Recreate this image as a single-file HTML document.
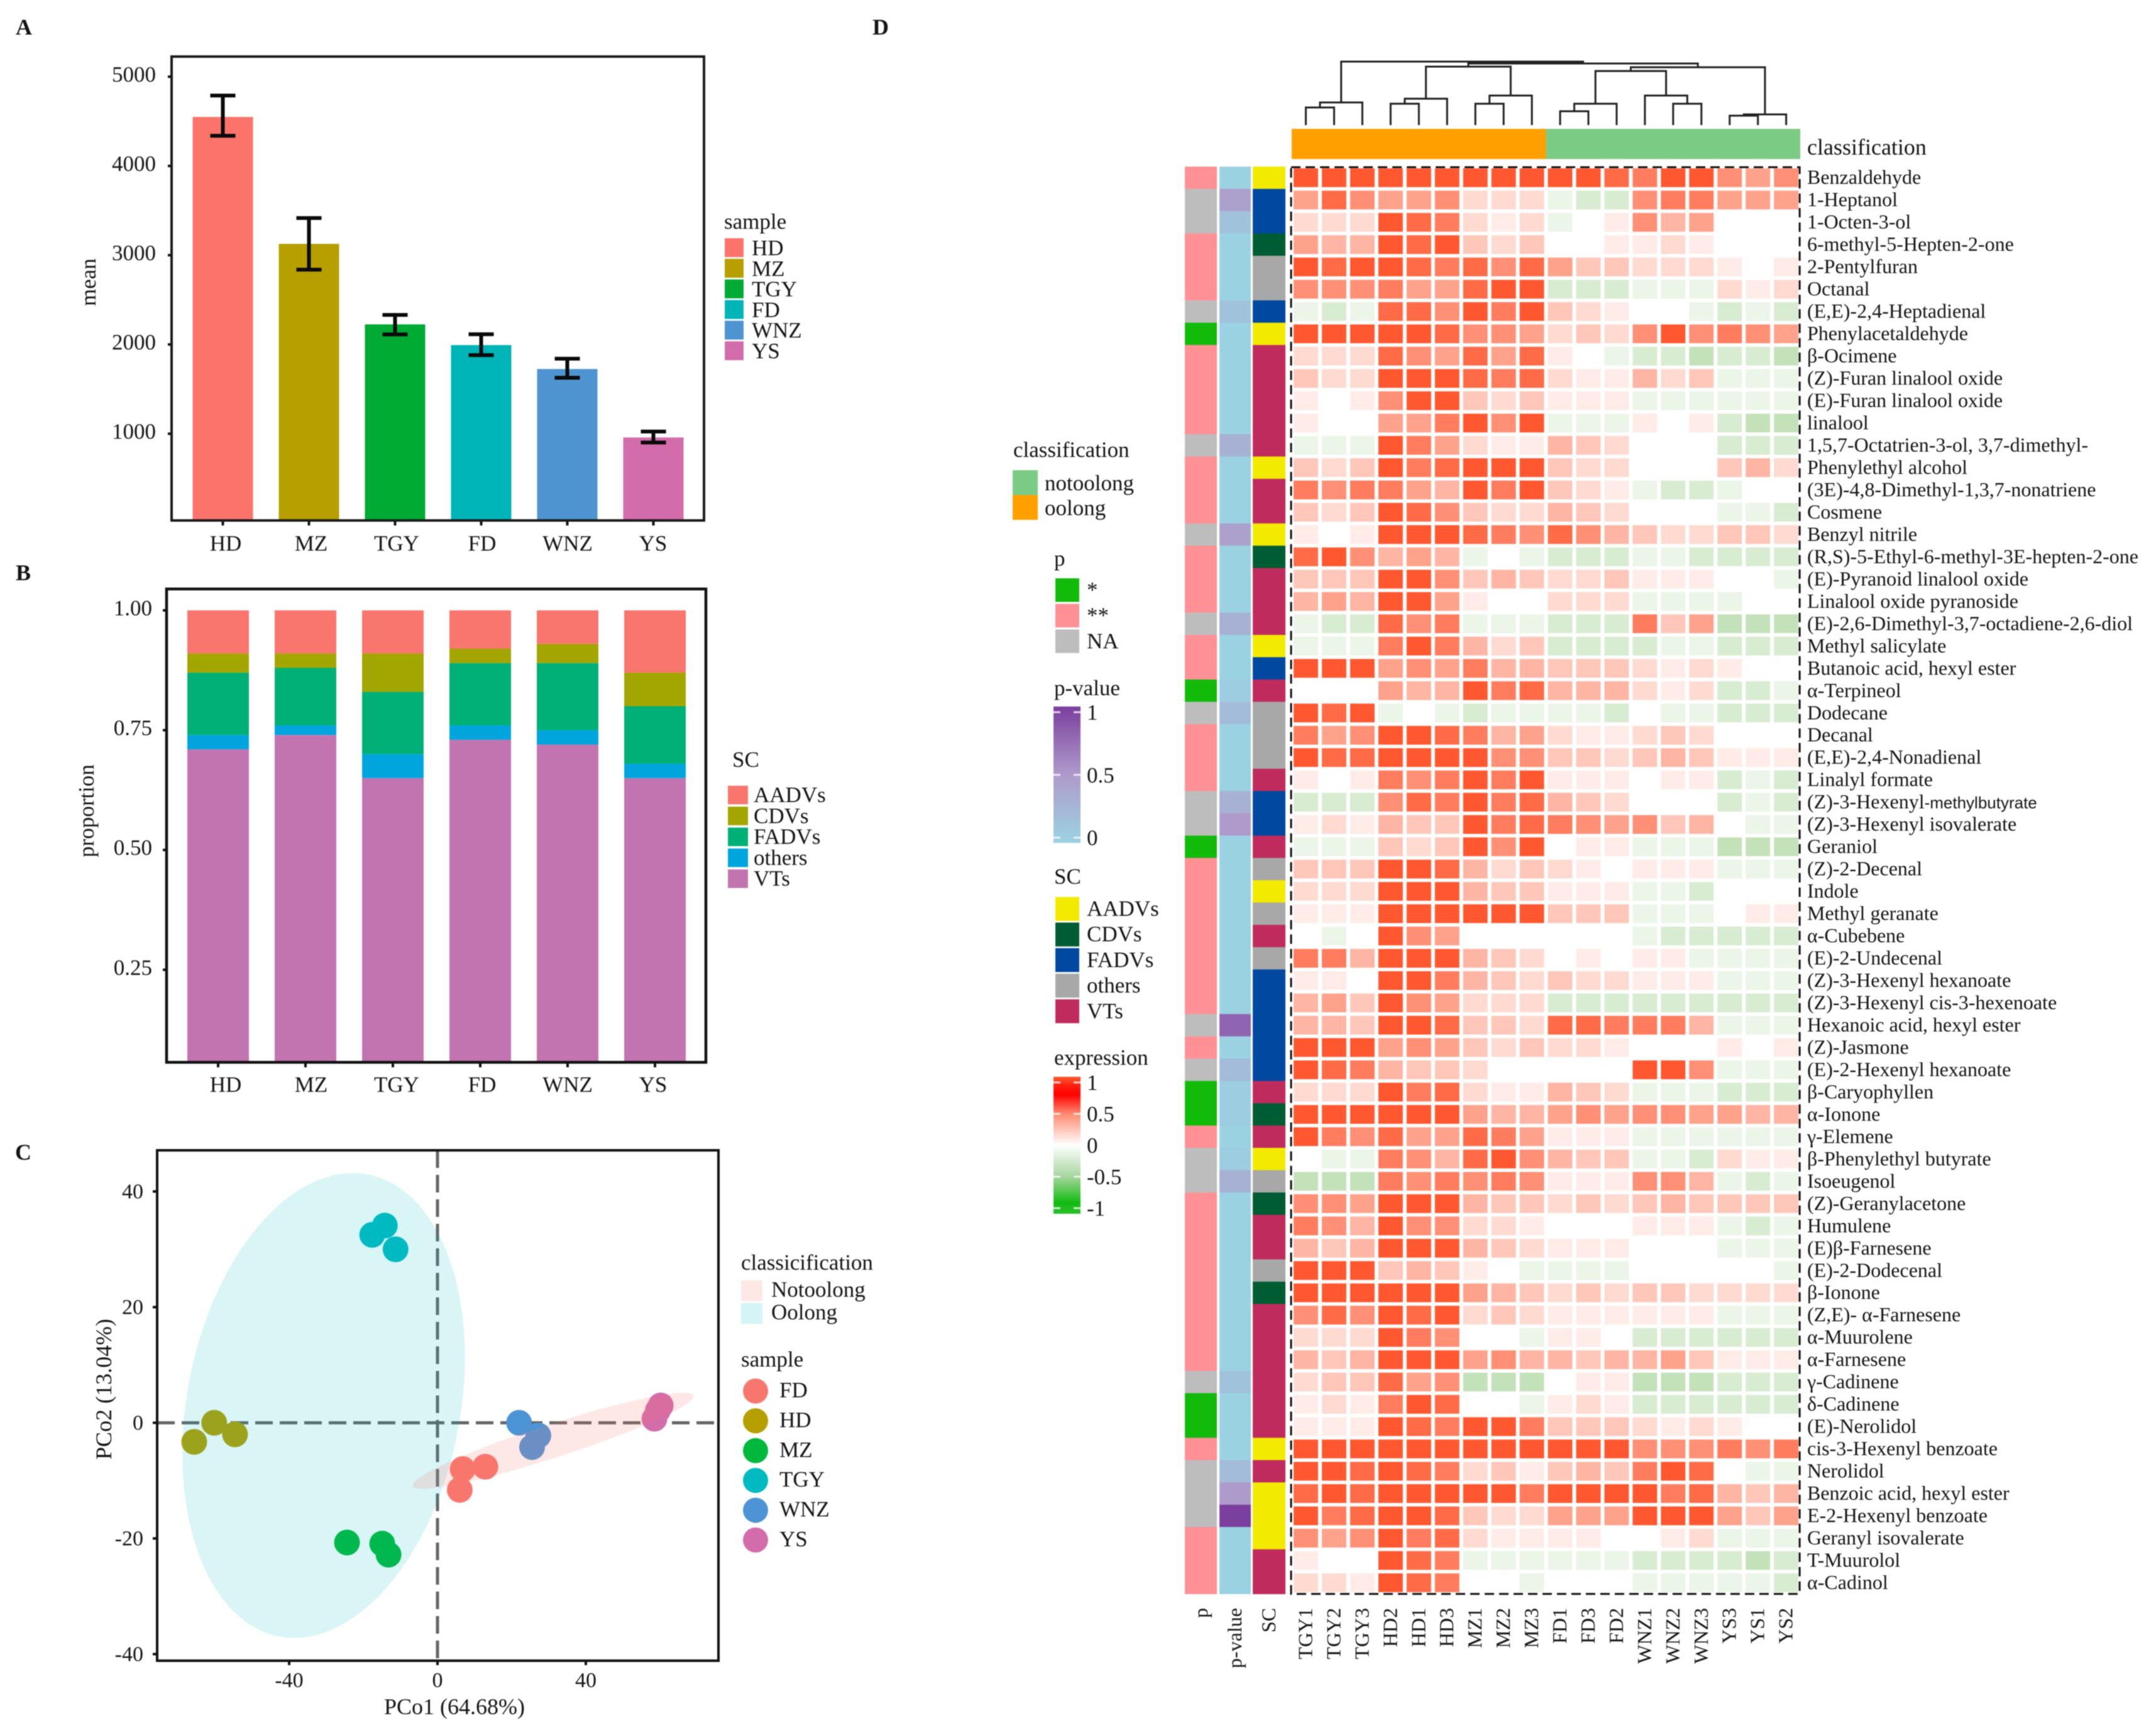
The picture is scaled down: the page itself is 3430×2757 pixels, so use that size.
<!DOCTYPE html>
<html lang="en">
<head>
<meta charset="utf-8">
<title>Volatile compound analysis: bar charts, PCoA and heatmap</title>
<style>
html,body{margin:0;padding:0;background:#fff;}
svg{display:block;filter:blur(0.7px);}
text{font-family:"Liberation Serif","Noto Serif CJK SC",serif;fill:#141414;}
</style>
</head>
<body>
<svg id="figure" xmlns="http://www.w3.org/2000/svg" width="3430" height="2757" viewBox="0 0 3430 2757">
  <defs>
    <linearGradient id="pvalue-gradient" x1="0" y1="0" x2="0" y2="1">
      <stop offset="0" stop-color="#7b3f9e"/>
      <stop offset="0.5" stop-color="#ae9bcb"/>
      <stop offset="1" stop-color="#9bd2e2"/>
    </linearGradient>
    <linearGradient id="expression-gradient" x1="0" y1="0" x2="0" y2="1">
      <stop offset="0" stop-color="#ff5a30"/>
      <stop offset="0.07" stop-color="#ff1c0c"/>
      <stop offset="0.13" stop-color="#ff0000"/>
      <stop offset="0.27" stop-color="#ff8a70"/>
      <stop offset="0.5" stop-color="#ffffff"/>
      <stop offset="0.73" stop-color="#a5d59c"/>
      <stop offset="0.92" stop-color="#11bb11"/>
      <stop offset="1" stop-color="#2cbf2c"/>
    </linearGradient>
  </defs>
  <rect width="3430" height="2757" fill="#ffffff"/>

  <text x="25" y="55" font-size="36" font-weight="bold">A</text>
  <text x="25" y="923" font-size="36" font-weight="bold">B</text>
  <text x="24" y="1845" font-size="36" font-weight="bold">C</text>
  <text x="1388" y="55" font-size="36" font-weight="bold">D</text>

  <g id="panel-a"></g>
  <g id="panel-b"></g>
  <g id="panel-c"></g>
  <g id="panel-d"></g>

  <text transform="translate(152 449) rotate(-90)" font-size="35" text-anchor="middle">mean</text>
  <text x="1152" y="364" font-size="35">sample</text>
  <text transform="translate(149 1290) rotate(-90)" font-size="35" text-anchor="middle">proportion</text>
  <text x="1165" y="1220" font-size="35">SC</text>
  <text x="723" y="2727" font-size="36" text-anchor="middle">PCo1 (64.68%)</text>
  <text transform="translate(177 2210) rotate(-90)" font-size="36" text-anchor="middle">PCo2 (13.04%)</text>
  <text x="1179" y="2020" font-size="35">classicification</text>
  <text x="1179" y="2174" font-size="35">sample</text>

  <text x="2875" y="246" font-size="36">classification</text>
  <text x="1612" y="727" font-size="35">classification</text>
  <text x="1677" y="900" font-size="35">p</text>
  <text x="1677" y="1106" font-size="35">p-value</text>
  <text x="1677" y="1406" font-size="35">SC</text>
  <text x="1677" y="1694" font-size="35">expression</text>
</svg>

<script>
/* ---------- Panel A: mean bars ---------- */
const sampleNames = ['HD', 'MZ', 'TGY', 'FD', 'WNZ', 'YS'];
const meanValues = [4549, 3127, 2225, 1993, 1725, 958];
const errorLower = [4338, 2838, 2113, 1880, 1627, 901];
const errorUpper = [4789, 3416, 2331, 2114, 1841, 1025];
const meanTicks = [1000, 2000, 3000, 4000, 5000];
const sampleColorsA = ['#fc736b', '#b79f00', '#00ab33', '#00b5b8', '#4d94d0', '#d36cab'];

/* ---------- Panel B: proportion stacks ---------- */
const aadvShare = [0.09, 0.09, 0.09, 0.08, 0.07, 0.13];
const cdvShare = [0.04, 0.03, 0.08, 0.03, 0.04, 0.07];
const fadvShare = [0.13, 0.12, 0.13, 0.13, 0.14, 0.12];
const otherShare = [0.03, 0.02, 0.05, 0.03, 0.03, 0.03];
const vtShare = [0.71, 0.74, 0.65, 0.73, 0.72, 0.65];
const proportionTicks = ['0.25', '0.50', '0.75', '1.00'];
const scNamesB = ['AADVs', 'CDVs', 'FADVs', 'others', 'VTs'];
const scColorsB = ['#f8766d', '#a3a500', '#00b076', '#00a5dd', '#c274b0'];

/* ---------- Panel C: PCoA ---------- */
const pcoSample = ['FD','FD','FD','HD','HD','HD','MZ','MZ','MZ','TGY','TGY','TGY','WNZ','WNZ','WNZ','YS','YS','YS'];
const pco1 = [6.8,12.9,6.0,-60.2,-54.6,-65.6,-24.4,-14.9,-13.2,-14.2,-17.6,-11.3,22.0,27.2,25.5,60.2,59.4,58.5];
const pco2 = [-8.0,-7.6,-11.6,0.0,-2.0,-3.3,-20.7,-20.9,-22.8,34.1,32.5,30.0,0.0,-2.2,-4.2,3.0,2.1,0.7];
const pcoLegendNames = ['FD', 'HD', 'MZ', 'TGY', 'WNZ', 'YS'];
const pcoColors = ['#f8766d', '#b79f00', '#00b83a', '#00bac2', '#4d94d6', '#d36cab'];
const pco1Ticks = [-40, 0, 40];
const pco2Ticks = [-40, -20, 0, 20, 40];
const ellipseNames = ['Oolong', 'Notoolong'];
const ellipseColors = ['#00bfc4', '#f8766d'];
const ellipseCentreX = [-30.7, 31.2];
const ellipseCentreY = [3.0, -3.1];
const ellipseSpreadX = [38.1, 37.9];
const ellipseSpreadY = [40.2, 8.3];
const ellipseCorrelation = [0.207, 0.93];

/* ---------- Panel D: heatmap ---------- */
const columnSamples = ['TGY1','TGY2','TGY3','HD2','HD1','HD3','MZ1','MZ2','MZ3','FD1','FD3','FD2','WNZ1','WNZ2','WNZ3','YS3','YS1','YS2'];
const compounds = ['Benzaldehyde','1-Heptanol','1-Octen-3-ol','6-methyl-5-Hepten-2-one','2-Pentylfuran','Octanal','(E,E)-2,4-Heptadienal','Phenylacetaldehyde','β-Ocimene','(Z)-Furan linalool oxide','(E)-Furan linalool oxide','linalool','1,5,7-Octatrien-3-ol, 3,7-dimethyl-','Phenylethyl alcohol','(3E)-4,8-Dimethyl-1,3,7-nonatriene','Cosmene','Benzyl nitrile','(R,S)-5-Ethyl-6-methyl-3E-hepten-2-one','(E)-Pyranoid linalool oxide','Linalool oxide pyranoside','(E)-2,6-Dimethyl-3,7-octadiene-2,6-diol','Methyl salicylate','Butanoic acid, hexyl ester','α-Terpineol','Dodecane','Decanal','(E,E)-2,4-Nonadienal','Linalyl formate','(Z)-3-Hexenyl-methylbutyrate','(Z)-3-Hexenyl isovalerate','Geraniol','(Z)-2-Decenal','Indole','Methyl geranate','α-Cubebene','(E)-2-Undecenal','(Z)-3-Hexenyl hexanoate','(Z)-3-Hexenyl cis-3-hexenoate','Hexanoic acid, hexyl ester','(Z)-Jasmone','(E)-2-Hexenyl hexanoate','β-Caryophyllen','α-Ionone','γ-Elemene','β-Phenylethyl butyrate','Isoeugenol','(Z)-Geranylacetone','Humulene','(E)β-Farnesene','(E)-2-Dodecenal','β-Ionone','(Z,E)- α-Farnesene','α-Muurolene','α-Farnesene','γ-Cadinene','δ-Cadinene','(E)-Nerolidol','cis-3-Hexenyl benzoate','Nerolidol','Benzoic acid, hexyl ester','E-2-Hexenyl benzoate','Geranyl isovalerate','T-Muurolol','α-Cadinol'];
/* expression in tenths, one row per compound */
const expressionTenths = [
[9,9,9,9,9,9,9,9,9,9,9,8,7,9,9,6,5,6],
[5,8,6,5,5,6,2,2,2,-1,-2,-2,6,7,7,5,5,5],
[2,2,2,9,8,7,2,1,2,-1,0,1,6,4,5,0,0,0],
[5,4,4,9,8,9,3,2,3,0,0,1,1,2,1,0,0,0],
[9,8,9,9,8,7,8,6,8,5,3,3,2,2,2,1,0,1],
[6,6,6,7,5,5,8,9,9,-2,-2,-2,-1,-1,-1,2,1,2],
[-1,-2,-1,8,8,6,9,7,9,3,2,1,0,0,-1,-2,-1,-2],
[9,9,9,9,9,8,6,6,5,2,3,2,6,9,6,7,6,5],
[2,2,2,8,6,5,8,5,8,1,0,-1,-2,-2,-3,-2,-2,-3],
[3,2,2,9,9,9,8,7,8,2,1,1,4,2,3,-1,-1,-1],
[1,0,1,6,9,9,3,2,3,1,1,1,-1,-1,-1,-1,-1,-1],
[1,0,0,5,5,7,9,6,9,-1,-1,-1,1,0,1,-2,-3,-3],
[-1,-1,-1,9,7,5,2,1,1,4,3,2,0,0,0,-2,-2,-2],
[3,2,3,9,7,8,9,9,9,3,2,2,0,0,0,3,4,2],
[7,6,7,7,5,4,9,7,9,3,2,1,-1,-2,-2,-1,0,0],
[3,2,3,9,8,6,3,2,2,4,3,2,0,0,0,-1,-1,-2],
[1,0,1,9,9,9,8,7,6,8,6,4,3,2,2,3,3,2],
[8,9,6,4,5,4,-1,0,-1,-2,-2,-2,-1,-1,-2,-2,-2,-2],
[3,3,3,9,9,6,3,4,3,2,2,3,1,1,1,0,0,-1],
[4,5,4,9,9,5,1,0,0,2,2,2,-1,-1,-1,-1,0,0],
[-1,-2,-2,8,6,7,-1,-1,-1,-2,-2,-2,7,3,5,-3,-3,-3],
[-1,-1,-1,7,9,7,4,2,3,-2,-2,-2,-2,-1,-1,-2,-2,-2],
[9,9,9,5,6,5,7,4,4,3,3,3,2,1,2,1,0,0],
[0,0,0,5,4,4,9,7,8,4,4,4,2,1,2,-2,-2,-1],
[9,8,9,-1,0,-1,-2,-1,-1,-1,-1,-2,0,-1,-1,-2,-2,-2],
[7,5,6,9,9,8,7,4,5,2,1,1,2,3,2,0,0,0],
[9,8,8,9,9,9,9,6,6,3,3,2,3,4,3,1,1,1],
[1,0,1,7,6,7,9,7,9,1,1,1,0,1,1,-2,-1,-2],
[-2,-2,-2,6,8,7,9,7,8,4,3,2,0,0,0,-2,-1,-2],
[1,2,1,4,3,3,9,7,8,7,6,5,6,3,4,0,-1,-1],
[-1,-1,-1,3,2,3,9,6,9,0,1,1,-1,-1,-1,-3,-3,-3],
[3,3,3,9,9,8,4,2,3,2,1,0,1,1,1,-1,-1,-1],
[2,2,2,9,9,9,4,3,3,1,1,1,-1,-1,-2,0,0,0],
[1,1,1,9,9,9,9,9,9,3,3,3,-1,-1,-1,0,1,1],
[0,-1,0,9,6,5,0,0,0,0,0,0,-1,-2,-2,-2,-2,-2],
[7,7,4,9,9,9,4,3,2,0,1,0,1,1,-1,-1,-1,-1],
[1,1,0,9,9,7,4,3,2,3,2,2,1,1,1,-1,-1,-1],
[4,5,3,9,6,5,2,2,2,-2,-2,-2,-2,-2,-2,-2,-2,-2],
[4,4,3,9,9,8,3,3,2,8,8,7,7,7,4,-1,-1,-1],
[9,9,9,5,6,5,3,2,3,2,2,1,0,0,0,1,0,1],
[9,8,7,4,3,3,2,0,0,0,0,0,9,9,6,-1,-1,-1],
[2,2,2,9,7,8,2,1,1,4,3,2,-1,-1,-1,-2,-2,-2],
[9,9,9,9,9,9,5,4,4,5,6,5,6,6,5,5,4,4],
[9,7,6,8,5,5,8,7,5,1,1,1,-1,-1,-1,-1,-1,-1],
[0,-1,-1,7,6,4,8,9,6,4,3,3,-1,-1,-2,2,1,1],
[-3,-3,-3,7,6,7,6,7,6,1,1,1,6,6,4,-1,-2,-1],
[6,6,5,9,9,9,4,3,3,2,3,2,3,4,3,3,3,3],
[7,6,4,9,6,6,2,2,1,0,0,0,1,1,1,-1,-2,-1],
[4,3,4,9,9,9,4,3,2,1,1,1,0,0,0,-1,-1,-1],
[9,9,9,3,4,3,1,0,-1,-1,-1,-1,0,0,0,0,0,-1],
[9,9,9,9,9,9,5,4,3,2,3,2,3,3,2,2,2,2],
[6,8,6,9,8,9,2,3,2,1,1,1,1,1,1,-1,-1,-1],
[2,2,2,9,7,6,0,0,-1,1,1,0,-2,-2,-2,-2,-2,-2],
[4,3,4,9,9,9,5,6,4,4,3,4,4,5,3,1,1,1],
[2,3,3,8,5,6,-3,-3,-3,0,1,1,-3,-3,-3,-2,-2,-2],
[1,2,1,7,9,8,0,0,-1,1,2,1,-2,-2,-2,-2,-2,-2],
[1,1,1,9,8,7,9,9,7,3,3,3,2,1,2,1,0,0],
[9,9,9,9,9,9,9,9,9,9,9,9,6,6,6,7,6,7],
[9,9,8,9,8,7,2,3,1,3,4,3,7,9,8,0,-1,-1],
[8,9,8,9,9,9,9,9,7,9,9,9,9,7,8,4,3,4],
[9,7,8,9,9,8,3,2,2,5,5,5,9,9,9,5,3,5],
[6,5,6,9,7,8,2,1,1,1,1,0,0,1,2,-1,-1,-1],
[1,0,0,9,8,7,-1,-1,-1,-1,-1,-1,-2,-2,-2,-2,-3,-2],
[2,2,1,9,8,7,0,0,-1,0,0,0,-1,-1,-1,-1,-1,-2]
];
const pSignificance = ['**','NA','NA','**','**','**','NA','*','**','**','**','**','NA','**','**','**','NA','**','**','**','NA','**','**','*','NA','**','**','**','NA','NA','*','**','**','**','**','**','**','**','NA','**','NA','*','*','**','NA','NA','**','**','**','**','**','**','**','**','NA','*','*','**','NA','NA','NA','**','**','**'];
const pValues = [0,.45,.15,0,0,0,.15,0,0,0,0,0,.3,0,0,0,.45,0,0,0,.3,0,0,.05,.2,0,0,0,.3,.5,0,0,0,0,0,0,0,0,.8,0,.2,.05,.05,0,.05,.3,0,0,0,0,0,0,0,0,.15,0,0,0,.2,.5,1,0,0,0];
const scClasses = ['AADVs','FADVs','FADVs','CDVs','others','others','FADVs','AADVs','VTs','VTs','VTs','VTs','VTs','AADVs','VTs','VTs','AADVs','CDVs','VTs','VTs','VTs','AADVs','FADVs','VTs','others','others','others','VTs','FADVs','FADVs','VTs','others','AADVs','others','VTs','others','FADVs','FADVs','FADVs','FADVs','FADVs','VTs','CDVs','VTs','AADVs','others','CDVs','VTs','VTs','others','CDVs','VTs','VTs','VTs','VTs','VTs','VTs','AADVs','VTs','AADVs','AADVs','AADVs','VTs','VTs'];
const pLegendNames = ['*', '**', 'NA'];
const pLegendColors = ['#12bb0a', '#ff9095', '#bdbdbd'];
const scLegendNames = ['AADVs', 'CDVs', 'FADVs', 'others', 'VTs'];
const scLegendColors = ['#f2ea00', '#005c32', '#0048a0', '#a8a8a8', '#c02b5e'];
const classNames = ['notoolong', 'oolong'];
const classColors = ['#7bcb84', '#ffa000'];
const oolongColumns = 9;
const pValueTicks = ['1', '0.5', '0'];
const expressionTicks = ['1', '0.5', '0', '-0.5', '-1'];
/* dendrogram merges: left node, right node, merge height; nodes 0-17 are leaves, 18+ earlier merges */
const mergeLeft = [0,18,3,20,6,22,21,9,25,13,12,26,15,30,29,24,19];
const mergeRight = [1,2,4,5,7,8,23,10,11,14,27,28,16,17,31,32,33];
const mergeHeight = [28,36,34,42,34,47,93,22,34,34,47,86,15,17,92,98,101];

/* ---------- helpers ---------- */
const SVGNS = 'http://www.w3.org/2000/svg';
function mk(parent, tag, attrs, txt) {
  const node = document.createElementNS(SVGNS, tag);
  for (const k in attrs) node.setAttribute(k, attrs[k]);
  if (txt !== undefined) node.textContent = txt;
  parent.appendChild(node);
  return node;
}
function slug(s) {
  return String(s).toLowerCase().replace(/[^a-z0-9]+/g, '-').replace(/^-|-$/g, '') || 'item';
}

/* ---------- Panel A ---------- */
(function () {
  const g = document.getElementById('panel-a');
  const x = i => 354.5 + 137 * i;
  const labelX = i => 359 + 136 * i;
  const y = v => 832 - 0.142 * v;
  const base = 828;
  sampleNames.forEach((s, i) => {
    let el = mk(g, 'rect', { x: x(i) - 48, y: y(meanValues[i]), width: 96, height: base - y(meanValues[i]), fill: sampleColorsA[i] });
    
    
    el = mk(g, 'path', { d: 'M' + (x(i) - 20) + ' ' + y(errorUpper[i]) + 'H' + (x(i) + 20) + 'M' + x(i) + ' ' + y(errorUpper[i]) + 'V' + y(errorLower[i]) + 'M' + (x(i) - 20) + ' ' + y(errorLower[i]) + 'H' + (x(i) + 20), stroke: '#0a0a0a', 'stroke-width': 6, fill: 'none' });
    
    
    el = mk(g, 'line', { x1: x(i), x2: x(i), y1: base, y2: base + 8, stroke: '#111', 'stroke-width': 4 });
    
    
    el = mk(g, 'text', { x: labelX(i), y: 876, 'font-size': 35, 'text-anchor': 'middle' }, s);
    
    
  });
  meanTicks.forEach(t => {
    let el = mk(g, 'line', { x1: 267, x2: 273, y1: y(t), y2: y(t), stroke: '#111', 'stroke-width': 4 });
    
    
    el = mk(g, 'text', { x: 248, y: y(t) + 8, 'font-size': 35, 'text-anchor': 'end' }, String(t));
    
    
  });
  let frame = mk(g, 'rect', { x: 273, y: 90, width: 847, height: 738, fill: 'none', stroke: '#1a1a1a', 'stroke-width': 4 });
  
  
  sampleNames.forEach((s, i) => {
    let el = mk(g, 'rect', { x: 1153, y: 379 + 32.8 * i, width: 30, height: 30, fill: sampleColorsA[i] });
    
    
    el = mk(g, 'text', { x: 1196, y: 406 + 32.8 * i, 'font-size': 35 }, s);
    
    
  });
})();

/* ---------- Panel B ---------- */
(function () {
  const g = document.getElementById('panel-b');
  const x = i => 347 + 139 * i;
  const labelX = i => 359 + 136 * i;
  const y = v => 971 + (1 - v) * 762.4;
  const base = 1690;
  const stackBottomUp = [vtShare, otherShare, fadvShare, cdvShare, aadvShare];
  const stackNames = ['VTs', 'others', 'FADVs', 'CDVs', 'AADVs'];
  const stackColors = ['#c274b0', '#00a5dd', '#00b076', '#a3a500', '#f8766d'];
  sampleNames.forEach((s, i) => {
    let cum = 0;
    stackBottomUp.forEach((series, k) => {
      const top = y(cum + series[i]);
      const bottom = Math.min(y(cum), base);
      const el = mk(g, 'rect', { x: x(i) - 49, y: top, width: 98, height: bottom - top, fill: stackColors[k] });
      
      
      cum += series[i];
    });
    let el = mk(g, 'line', { x1: x(i), x2: x(i), y1: base, y2: base + 8, stroke: '#111', 'stroke-width': 4 });
    
    
    el = mk(g, 'text', { x: labelX(i), y: 1737, 'font-size': 35, 'text-anchor': 'middle' }, s);
    
    
  });
  proportionTicks.forEach(t => {
    const v = parseFloat(t);
    let el = mk(g, 'line', { x1: 259, x2: 265, y1: y(v), y2: y(v), stroke: '#111', 'stroke-width': 4 });
    
    
    el = mk(g, 'text', { x: 242, y: y(v) + 8, 'font-size': 35, 'text-anchor': 'end' }, t);
    
    
  });
  let frame = mk(g, 'rect', { x: 265, y: 937, width: 858, height: 753, fill: 'none', stroke: '#111', 'stroke-width': 4.5 });
  
  
  scNamesB.forEach((s, i) => {
    let el = mk(g, 'rect', { x: 1158, y: 1250 + 33.3 * i, width: 32, height: 29.5, fill: scColorsB[i] });
    
    
    el = mk(g, 'text', { x: 1199, y: 1276 + 33.3 * i, 'font-size': 35 }, s);
    
    
  });
})();

/* ---------- Panel C ---------- */
(function () {
  const g = document.getElementById('panel-c');
  const x = v => 696 + 5.9 * v;
  const y = v => 2263.5 - 9.2 * v;
  const left = 250, right = 1143, top = 1830, bottom = 2642;
  let el = mk(g, 'line', { x1: left, x2: right, y1: y(0), y2: y(0), stroke: '#666', 'stroke-width': 5, 'stroke-dasharray': '28 11' });
  
  
  el = mk(g, 'line', { x1: x(0), x2: x(0), y1: top, y2: bottom, stroke: '#666', 'stroke-width': 5, 'stroke-dasharray': '28 11' });
  
  
  pco1.forEach((v, i) => {
    const colour = pcoColors[pcoLegendNames.indexOf(pcoSample[i])];
    const point = mk(g, 'circle', { cx: x(v), cy: y(pco2[i]), r: 20.5, fill: colour });
    
    
  });
  ellipseNames.forEach((name, k) => {
    const W = ellipseSpreadX[k], H = ellipseSpreadY[k], r = ellipseCorrelation[k];
    let d = '';
    for (let a = 0; a <= 120; a++) {
      const t = a / 120 * 2 * Math.PI;
      const dx = W * (r * Math.cos(t) + Math.sqrt(1 - r * r) * Math.sin(t));
      const dy = H * Math.cos(t);
      d += (a ? 'L' : 'M') + x(ellipseCentreX[k] + dx).toFixed(1) + ' ' + y(ellipseCentreY[k] + dy).toFixed(1);
    }
    const shape = mk(g, 'path', { d: d + 'Z', fill: ellipseColors[k], 'fill-opacity': k === 0 ? 0.15 : 0.17 });
    
    
  });
  pco1Ticks.forEach(t => {
    let tk = mk(g, 'line', { x1: x(t), x2: x(t), y1: bottom, y2: bottom + 7, stroke: '#111', 'stroke-width': 4 });
    
    
    tk = mk(g, 'text', { x: x(t), y: 2684, 'font-size': 34, 'text-anchor': 'middle' }, String(t));
    
    
  });
  pco2Ticks.forEach(t => {
    let tk = mk(g, 'line', { x1: left - 7, x2: left, y1: y(t), y2: y(t), stroke: '#111', 'stroke-width': 4 });
    
    
    tk = mk(g, 'text', { x: 228, y: y(t) + 11, 'font-size': 34, 'text-anchor': 'end' }, String(t));
    
    
  });
  el = mk(g, 'rect', { x: left, y: top, width: right - left, height: bottom - top, fill: 'none', stroke: '#111', 'stroke-width': 4 });
  
  
  [['Notoolong', 1], ['Oolong', 0]].forEach((pair, i) => {
    let s = mk(g, 'rect', { x: 1179, y: 2037 + 36 * i, width: 34, height: 33, fill: ellipseColors[pair[1]], 'fill-opacity': 0.17 });
    
    
    s = mk(g, 'text', { x: 1227, y: 2063 + 36 * i, 'font-size': 35 }, pair[0]);
    
    
  });
  pcoLegendNames.forEach((s, i) => {
    const cy = 2213 + 47.4 * i;
    let n = mk(g, 'circle', { cx: 1202, cy: cy, r: 20, fill: pcoColors[i] });
    
    
    n = mk(g, 'text', { x: 1240, y: cy + 10, 'font-size': 35 }, s);
    
    
  });
})();

/* ---------- Panel D ---------- */
(function () {
  const g = document.getElementById('panel-d');
  const colW = 44.95, rowH = 35.48, left = 2055, top = 265;
  const cx = i => left + colW * i;
  const ry = r => top + rowH * r;
  const bottom = ry(compounds.length), right = cx(columnSamples.length);

  function mix(a, b, t) {
    return 'rgb(' + a.map((c, i) => Math.round(c + (b[i] - c) * t)).join(',') + ')';
  }
  function heat(v) {
    return v >= 0 ? mix([255, 255, 255], [255, 88, 48], Math.min(v / 0.9, 1)) : mix([255, 255, 255], [196, 226, 186], Math.min(-v / 0.3, 1));
  }
  function pValueColour(v) {
    return v <= 0.5 ? mix([155, 210, 226], [174, 155, 203], v / 0.5) : mix([174, 155, 203], [123, 63, 158], (v - 0.5) / 0.5);
  }

  /* heatmap cells */
  expressionTenths.forEach((row, r) => {
    row.forEach((val, c) => {
      const cell = mk(g, 'rect', { x: cx(c) + 3, y: ry(r) + 2.8, width: colW - 6, height: rowH - 5.6, fill: heat(val / 10) });
      
      
    });
  });

  /* annotation columns */
  compounds.forEach((name, r) => {
    let el = mk(g, 'rect', { x: 1885, y: ry(r), width: 51, height: rowH + 0.4, fill: pLegendColors[pLegendNames.indexOf(pSignificance[r])] });
    
    
    el = mk(g, 'rect', { x: 1940, y: ry(r), width: 50, height: rowH + 0.4, fill: pValueColour(pValues[r]) });
    
    
    el = mk(g, 'rect', { x: 1993, y: ry(r), width: 52, height: rowH + 0.4, fill: scLegendColors[scLegendNames.indexOf(scClasses[r])] });
    
    

    /* row labels */
    const label = mk(g, 'text', { x: 2875, y: ry(r) + rowH / 2 + 10, 'font-size': 32 });
    
    
    const tail = '-methylbutyrate';
    if (name.endsWith(tail)) {
      mk(label, 'tspan', {}, name.slice(0, -tail.length));
      mk(label, 'tspan', { 'font-family': '"Liberation Sans",sans-serif', 'font-size': 26 }, tail);
    } else {
      label.textContent = name;
    }
  });

  /* dashed outline */
  let el = mk(g, 'rect', { x: left - 1, y: top + 1, width: right - left, height: bottom - top - 1, fill: 'none', stroke: '#111', 'stroke-width': 3, 'stroke-dasharray': '15 8' });
  
  

  /* column annotation bar */
  el = mk(g, 'rect', { x: left, y: 205, width: colW * oolongColumns, height: 48, fill: classColors[1] });
  
  
  el = mk(g, 'rect', { x: left + colW * oolongColumns, y: 205, width: colW * (columnSamples.length - oolongColumns), height: 48, fill: classColors[0] });
  
  

  /* dendrogram */
  const leafBase = 199;
  const nodeX = columnSamples.map((s, i) => cx(i) + colW / 2);
  const nodeH = columnSamples.map(() => 0);
  mergeLeft.forEach((a, m) => {
    const b = mergeRight[m], h = mergeHeight[m];
    const xa = nodeX[a], xb = nodeX[b], yTop = leafBase - h;
    const line = mk(g, 'path', { d: 'M' + xa + ' ' + (leafBase - nodeH[a]) + 'V' + yTop + 'H' + xb + 'V' + (leafBase - nodeH[b]), fill: 'none', stroke: '#222', 'stroke-width': 3 });
    
    
    nodeX.push((xa + xb) / 2);
    nodeH.push(h);
  });

  /* bottom rotated labels */
  columnSamples.forEach((s, c) => {
    const t = mk(g, 'text', { transform: 'translate(' + (cx(c) + colW / 2 + 10) + ' 2558) rotate(-90)', 'font-size': 32, 'text-anchor': 'end' }, s);
    
    
  });
  [['p', 1921], ['p-value', 1975], ['SC', 2029]].forEach(pair => {
    const t = mk(g, 'text', { transform: 'translate(' + pair[1] + ' 2558) rotate(-90)', 'font-size': 32, 'text-anchor': 'end' }, pair[0]);
    
    
  });

  /* legends */
  classNames.forEach((s, i) => {
    let n = mk(g, 'rect', { x: 1611, y: 748 + 39.5 * i, width: 40, height: 39.5, fill: classColors[i] });
    
    
    n = mk(g, 'text', { x: 1662, y: 780 + 39.5 * i, 'font-size': 35 }, s);
    
    
  });
  pLegendNames.forEach((s, i) => {
    let n = mk(g, 'rect', { x: 1679, y: 920 + 40.7 * i, width: 38, height: 37.5, fill: pLegendColors[i] });
    
    
    n = mk(g, 'text', { x: 1729, y: 950 + 40.7 * i, 'font-size': 35 }, s);
    
    
  });
  scLegendNames.forEach((s, i) => {
    let n = mk(g, 'rect', { x: 1679, y: 1427 + 40.7 * i, width: 38, height: 38, fill: scLegendColors[i] });
    
    
    n = mk(g, 'text', { x: 1729, y: 1457 + 40.7 * i, 'font-size': 35 }, s);
    
    
  });

  /* colour bars */
  function colourBar(prefix, gradient, y0, y1, labels, yOf) {
    const bar = mk(g, 'rect', { x: 1676, y: y0, width: 43, height: y1 - y0, fill: 'url(#' + gradient + ')' });
    
    
    labels.forEach(t => {
      const yy = yOf(parseFloat(t));
      const tick = mk(g, 'path', { d: 'M1676 ' + yy + 'h11M1708 ' + yy + 'h11', stroke: '#ffffff', 'stroke-opacity': 0.75, 'stroke-width': 3 });
      
      
      const lab = mk(g, 'text', { x: 1729, y: yy + 12, 'font-size': 35 }, t);
      
      
    });
  }
  colourBar('p-value', 'pvalue-gradient', 1124, 1341, pValueTicks, v => 1332.5 - 199.5 * v);
  colourBar('expression', 'expression-gradient', 1713, 1931, expressionTicks, v => 1822 - 100 * v);
})();
</script>
</body>
</html>
